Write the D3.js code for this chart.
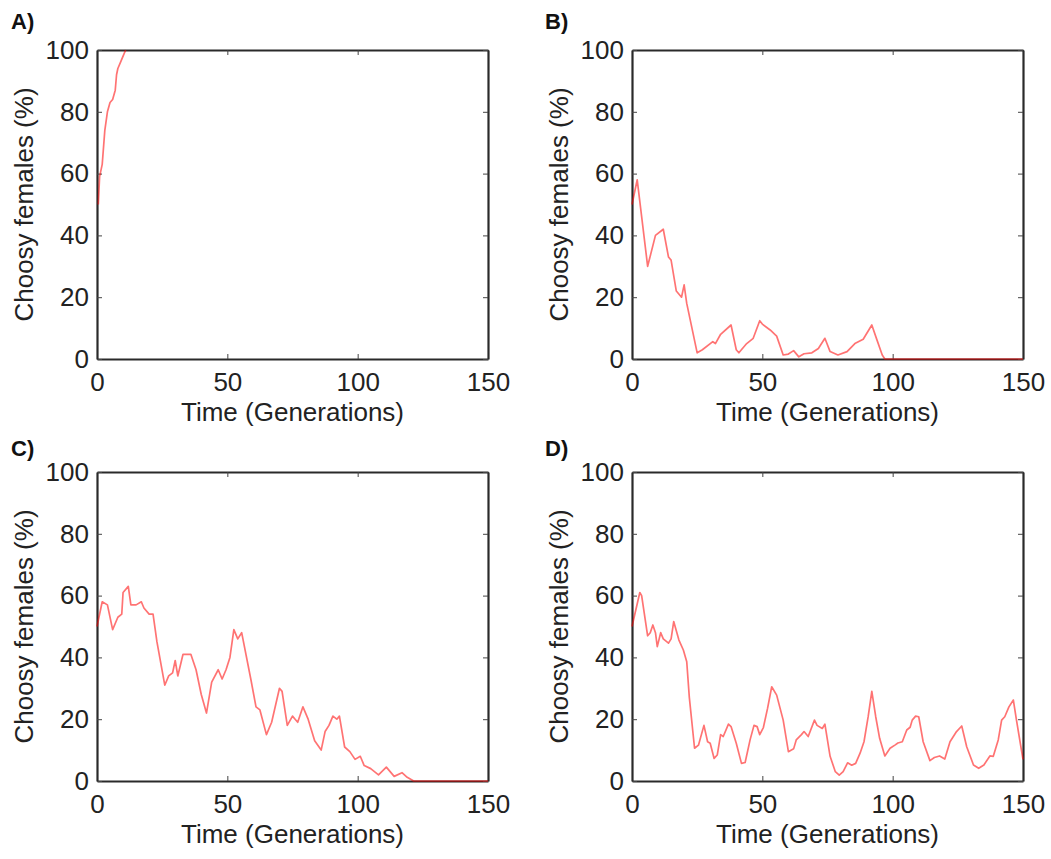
<!DOCTYPE html>
<html>
<head>
<meta charset="utf-8">
<script src="https://cdn.jsdelivr.net/npm/d3@7"></script>
<style>
  html, body { margin: 0; padding: 0; background: #fff; }
  svg { display: block; }
  text { font-family: "Liberation Sans", Arial, Helvetica, sans-serif; fill: #222; }
</style>
</head>
<body>
<svg id="chart" width="1051" height="859"></svg>
<script>
// ---- data ----
const panelLabels = ["A)", "B)", "C)", "D)"];
const xTicks = [0, 50, 100, 150];
const yTicks = [0, 20, 40, 60, 80, 100];
const xTitle = "Time (Generations)";
const yTitle = "Choosy females (%)";

const timeA = [0.5, 1, 2, 3, 4, 5, 6, 7, 7.5, 8, 9, 10, 11];
const choosyA = [50, 59, 63, 74, 80, 83, 84, 87, 92, 94, 96, 98, 100];

const timeB = [0, 2, 6, 9, 12, 14, 15, 17, 19, 20,
  21, 25, 27, 31, 32, 34, 38, 40, 41, 44,
  46.5, 49, 50, 53, 55.5, 58, 60, 62, 64, 66,
  69, 71.5, 74, 76, 79, 82.5, 85.5, 88.7, 92, 94,
  96, 97, 150];
const choosyB = [50, 58, 30, 40, 42, 33, 32, 22, 20, 24,
  18, 2, 3, 5.6, 5, 8, 11, 3, 2, 5,
  6.7, 12.4, 11.3, 9.4, 7.4, 1.3, 1.6, 2.7, 0.7, 1.7,
  2, 3.4, 6.7, 2.4, 1.3, 2.4, 5, 6.4, 11, 6.1,
  1.3, 0, 0];

const timeC = [0, 2, 4, 6, 8, 9.5, 10, 12, 13, 15,
  17, 18, 20, 21.5, 23, 26, 27.5, 29, 30, 31,
  33, 36, 38, 40, 42, 44, 46.5, 48, 49.5, 51,
  52.5, 54, 55.5, 59, 61, 62.5, 65, 67, 70, 71,
  73, 75, 76, 77, 79, 81, 83.5, 86, 87.5, 89,
  90.5, 92, 93, 95, 97, 99, 101, 102.5, 105, 108,
  111, 114, 117, 119, 121.5, 150];
const choosyC = [50, 58, 57, 49, 53, 54, 61, 63, 57, 57,
  58, 56, 54, 54, 45, 31, 34, 35, 39, 34,
  41, 41, 36, 28, 22, 32, 36, 33, 36, 40,
  49, 46, 48, 33, 24, 23, 15, 19, 30, 29,
  18, 21, 20, 19, 24, 20, 13, 10, 16, 18,
  21, 20, 21, 11, 9.5, 7, 8, 5, 4, 2,
  4.5, 1.5, 2.7, 1.2, 0, 0];

const timeD = [0, 3, 3.7, 6, 7, 8, 9, 9.7, 11, 12,
  14, 15, 16, 18, 19.7, 21, 22, 24, 25.5, 27.6,
  29, 30, 31.5, 32.7, 34, 35, 37, 38, 40, 42,
  43.4, 45.3, 46.8, 48, 49, 50.4, 52, 53.6, 55.5, 58,
  60, 62, 63, 65, 66, 67.6, 70, 71, 73, 74,
  76, 78, 79.5, 81, 82.7, 84.3, 85.8, 87.5, 89, 90.6,
  92, 93.5, 95, 97, 99, 101, 102, 103.7, 105.4, 106.7,
  107.5, 108.8, 110, 111.7, 114.3, 116, 118, 120, 122, 124.5,
  126.5, 128.4, 131, 133, 135, 137.3, 138.6, 140.5, 141.8, 143,
  144.6, 146.3, 147.5, 149.5, 150];
const choosyD = [50, 61, 60, 47, 48, 50.5, 48, 43.5, 48, 46,
  44.6, 46, 51.6, 45.6, 42.4, 38.6, 27, 10.6, 11.6, 18,
  12.7, 12.2, 7.3, 8.4, 15, 14.4, 18.4, 17.6, 12.2, 5.7,
  6, 13.3, 18, 17.6, 15, 17.3, 23.5, 30.5, 27.8, 19.7,
  9.5, 10.4, 13.3, 15, 16, 14.4, 19.7, 18, 17, 18.4,
  8, 3, 1.9, 3, 5.9, 5.1, 5.7, 9, 12.7, 20.8,
  29, 20.8, 13.8, 8.1, 10.6, 11.7, 12.3, 12.7, 16.5, 17.4,
  19.7, 21, 20.8, 12.7, 6.6, 7.6, 8.1, 7.1, 12.7, 16,
  17.8, 11.1, 5.2, 4.1, 5.2, 8.1, 8, 13.3, 19.7, 20.8,
  24, 26.2, 19.7, 9.5, 7];

const seriesTimes = [timeA, timeB, timeC, timeD];
const seriesValues = [choosyA, choosyB, choosyC, choosyD];

// ---- layout ----
const panels = [
  { left: 97,  top: 50,  labelX: 11,  labelY: 29 },
  { left: 632, top: 50,  labelX: 545, labelY: 29 },
  { left: 97,  top: 472, labelX: 11,  labelY: 456 },
  { left: 632, top: 472, labelX: 545, labelY: 456 }
];
const W = 391, H = 309;

const svg = d3.select("#chart");

panels.forEach((p, i) => {
  const x = d3.scaleLinear().domain([0, 150]).range([0, W]);
  const y = d3.scaleLinear().domain([0, 100]).range([H, 0]);
  const g = svg.append("g").attr("transform", `translate(${p.left},${p.top})`);

  // panel letter
  svg.append("text")
    .attr("x", p.labelX).attr("y", p.labelY)
    .attr("font-size", 22).attr("font-weight", "bold")
    .style("fill", "#111")
    .text(panelLabels[i]);

  // axes (box with inward ticks)
  const styleAxis = sel => {
    sel.select(".domain").attr("stroke", "#2a2a2a").attr("stroke-width", 2.2);
    sel.selectAll(".tick line").attr("stroke", "#444").attr("stroke-width", 1);
    sel.selectAll(".tick text").attr("font-size", 26).style("fill", "#222")
      .attr("font-family", "'Liberation Sans', Arial, Helvetica, sans-serif");
  };

  g.append("g").attr("transform", `translate(0,${H})`)
    .call(d3.axisBottom(x).tickValues(xTicks).tickSizeInner(-5).tickSizeOuter(0).tickPadding(14))
    .call(styleAxis);
  g.append("g")
    .call(d3.axisTop(x).tickValues(xTicks).tickSizeInner(-5).tickSizeOuter(0).tickFormat(""))
    .call(styleAxis);
  g.append("g")
    .call(d3.axisLeft(y).tickValues(yTicks).tickSizeInner(-5).tickSizeOuter(0).tickPadding(8))
    .call(styleAxis);
  g.append("g").attr("transform", `translate(${W},0)`)
    .call(d3.axisRight(y).tickValues(yTicks).tickSizeInner(-5).tickSizeOuter(0).tickFormat(""))
    .call(styleAxis);

  // line
  const ts = seriesTimes[i], vs = seriesValues[i];
  const pts = ts.map((t, k) => [t, vs[k]]);
  g.append("path")
    .datum(pts)
    .attr("fill", "none")
    .attr("stroke", "rgb(255,0,0)")
    .attr("stroke-opacity", 0.55)
    .attr("stroke-width", 1.7)
    .attr("stroke-linejoin", "round")
    .attr("d", d3.line().x(d => x(d[0])).y(d => y(d[1])));

  // axis titles
  g.append("text")
    .attr("x", W / 2).attr("y", H + 62)
    .attr("text-anchor", "middle")
    .attr("font-size", 26)
    .text(xTitle);
  g.append("text")
    .attr("transform", `translate(-64,${H / 2}) rotate(-90)`)
    .attr("text-anchor", "middle")
    .attr("font-size", 26)
    .text(yTitle);
});
</script>
</body>
</html>
